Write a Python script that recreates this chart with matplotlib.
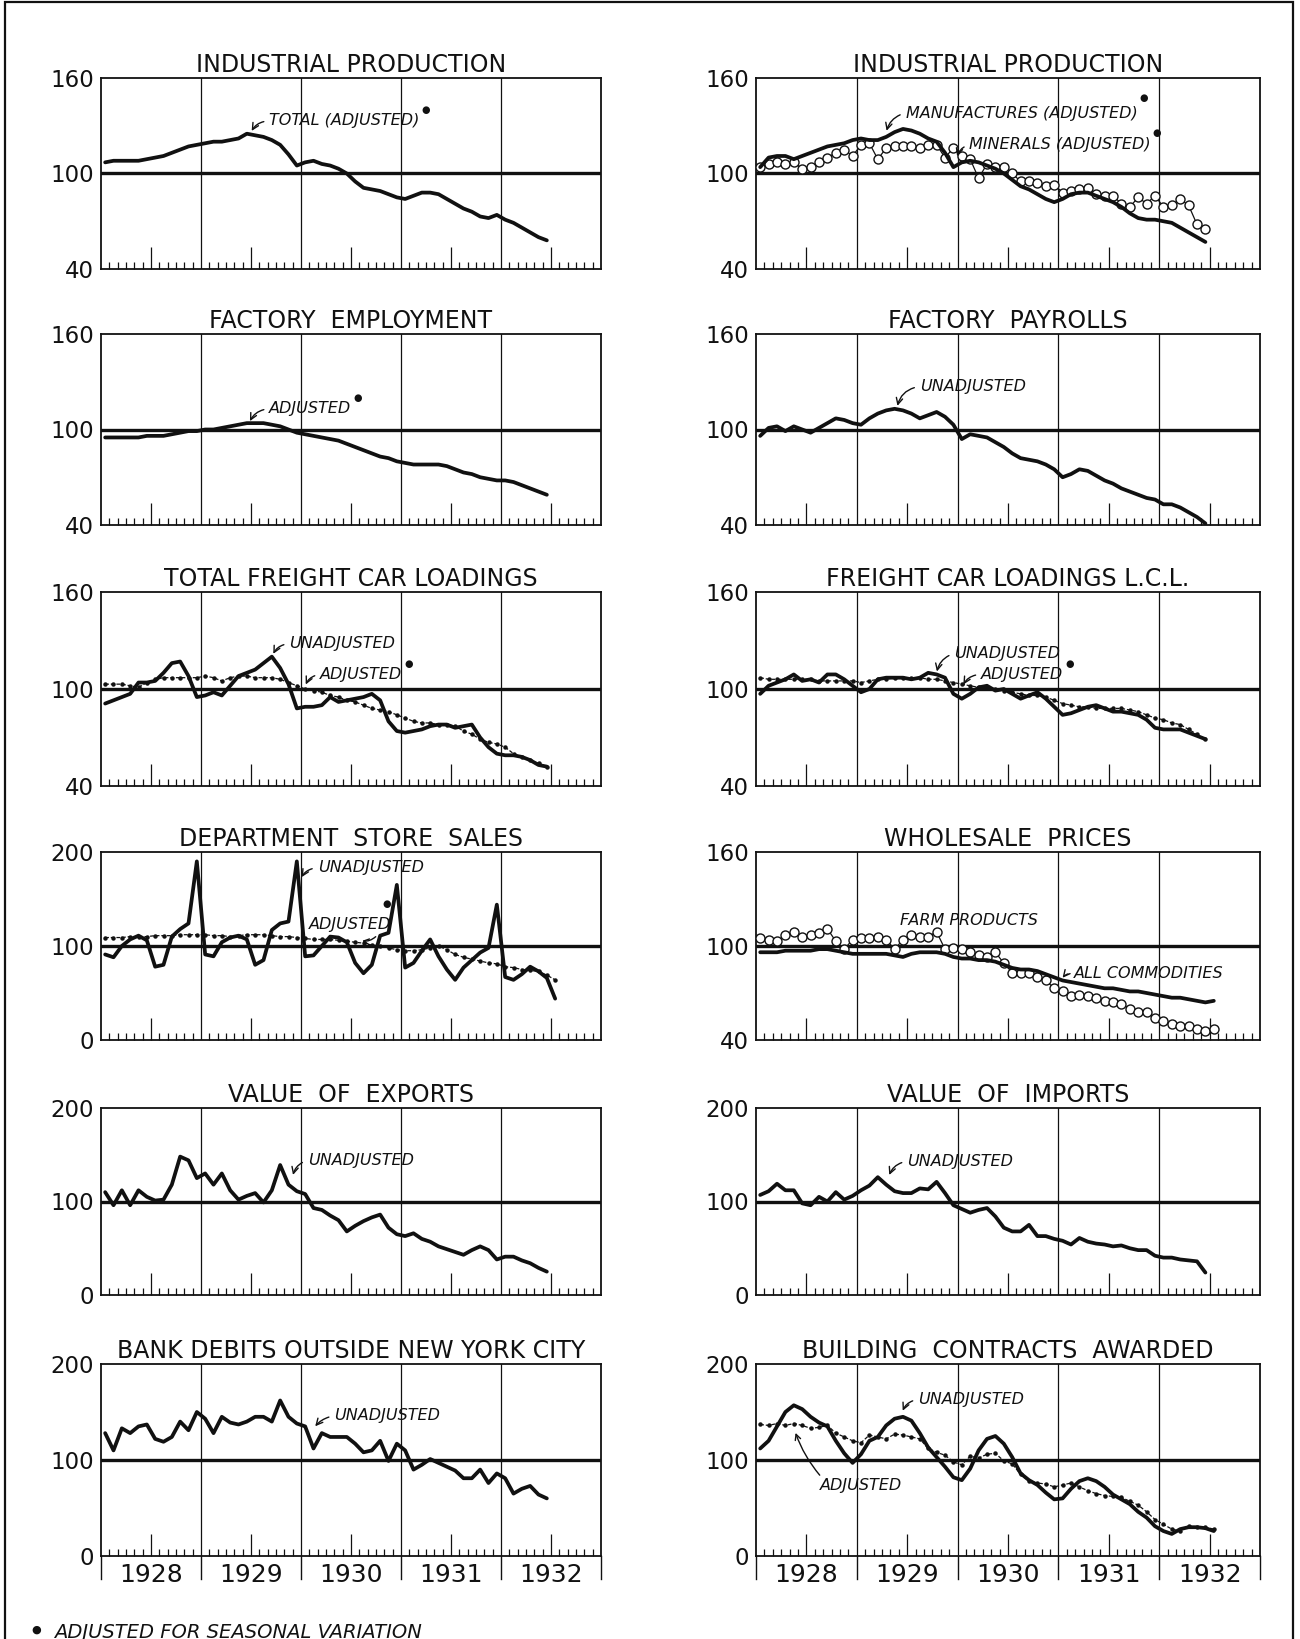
import numpy as np
import matplotlib
matplotlib.use("Agg")
import matplotlib.pyplot as plt
from matplotlib.patches import Rectangle
from matplotlib.transforms import blended_transform_factory

# Monatswerte ab Jan 1928 (Index 0)
ip_total = [107, 108, 108, 108, 108, 109, 110, 111, 113, 115, 117, 118,
            119, 120, 120, 121, 122, 125, 124, 123, 121, 118, 112, 105,
            107, 108, 106, 105, 103, 100, 95, 91, 90, 89, 87, 85,
            84, 86, 88, 88, 87, 84, 81, 78, 76, 73, 72, 74,
            71, 69, 66, 63, 60, 58]
ip_manuf = [104, 110, 111, 111, 109, 111, 113, 115, 117, 118, 119, 121,
            122, 121, 121, 123, 126, 128, 127, 125, 122, 120, 113, 104,
            107, 108, 107, 105, 103, 100, 96, 92, 90, 87, 84, 82,
            84, 87, 88, 88, 86, 84, 82, 79, 75, 72, 71, 71,
            70, 69, 66, 63, 60, 57]
ip_minerals = [104, 106, 107, 106, 107, 103, 104, 107, 110, 113, 115, 111,
               118, 119, 109, 116, 117, 117, 117, 116, 118, 118, 110, 116,
               111, 109, 97, 106, 104, 104, 100, 95, 95, 94, 92, 93,
               88, 89, 90, 91, 87, 86, 86, 81, 79, 85, 81, 86,
               79, 80, 84, 80, 68, 65]
fact_employment = [95, 95, 95, 95, 95, 96, 96, 96, 97, 98, 99, 99,
                   100, 100, 101, 102, 103, 104, 104, 104, 103, 102, 100, 98,
                   97, 96, 95, 94, 93, 91, 89, 87, 85, 83, 82, 80,
                   79, 78, 78, 78, 78, 77, 75, 73, 72, 70, 69, 68,
                   68, 67, 65, 63, 61, 59]
fact_payrolls = [96, 101, 102, 99, 102, 100, 98, 101, 104, 107, 106, 104,
                 103, 107, 110, 112, 113, 112, 110, 107, 109, 111, 108, 103,
                 94, 97, 96, 95, 92, 89, 85, 82, 81, 80, 78, 75,
                 70, 72, 75, 74, 71, 68, 66, 63, 61, 59, 57, 56,
                 53, 53, 51, 48, 45, 41]
freight_unadj = [91, 93, 95, 97, 104, 104, 105, 110, 116, 117, 108, 95,
                 96, 98, 96, 102, 108, 110, 112, 116, 120, 113, 103, 88,
                 89, 89, 90, 95, 92, 93, 94, 95, 97, 93, 80, 74,
                 73, 74, 75, 77, 78, 78, 76, 77, 78, 70, 64, 60,
                 59, 59, 58, 56, 53, 52]
freight_adj = [103, 103, 103, 102, 101, 104, 106, 107, 107, 107, 107, 107,
               108, 107, 105, 107, 108, 108, 107, 107, 107, 106, 104, 102,
               100, 99, 98, 96, 95, 93, 92, 90, 88, 87, 86, 84,
               82, 80, 79, 79, 78, 78, 77, 74, 72, 69, 67, 66,
               64, 60, 58, 56, 54, 52]
lcl_unadj = [97, 102, 104, 106, 109, 105, 106, 104, 109, 109, 106, 102,
             98, 100, 106, 107, 107, 107, 106, 107, 110, 109, 107, 97,
             94, 97, 101, 102, 99, 100, 97, 94, 96, 98, 94, 89,
             84, 85, 87, 89, 90, 88, 86, 86, 85, 84, 81, 76,
             75, 75, 75, 73, 71, 69]
lcl_adj = [107, 106, 106, 106, 106, 106, 106, 105, 105, 105, 105, 105,
           104, 105, 106, 106, 107, 107, 107, 107, 106, 106, 105, 104,
           103, 102, 101, 101, 100, 99, 98, 97, 96, 96, 95, 93,
           91, 90, 89, 89, 88, 88, 88, 88, 87, 86, 84, 82,
           81, 79, 78, 75, 72, 69]
dept_unadj = [91, 88, 100, 107, 111, 106, 78, 80, 110, 118, 124, 190,
              91, 89, 104, 109, 111, 107, 80, 85, 117, 124, 126, 190,
              89, 90, 100, 110, 109, 104, 82, 71, 80, 111, 114, 165,
              77, 82, 95, 107, 89, 75, 64, 77, 85, 93, 98, 144,
              67, 64, 70, 78, 73, 66, 44]
dept_adj = [109, 109, 109, 110, 110, 110, 111, 111, 111, 112, 112, 112,
            112, 111, 111, 110, 111, 112, 112, 112, 111, 110, 110, 109,
            108, 107, 107, 107, 106, 105, 104, 103, 101, 100, 98, 96,
            95, 95, 96, 98, 100, 96, 91, 88, 86, 84, 82, 81,
            78, 77, 75, 74, 73, 69, 64]
wp_all = [96, 96, 96, 97, 97, 97, 97, 98, 98, 97, 96, 95,
          95, 95, 95, 95, 94, 93, 95, 96, 96, 96, 95, 93,
          92, 92, 91, 91, 90, 88, 86, 85, 85, 84, 82, 80,
          78, 77, 76, 75, 74, 73, 73, 72, 71, 71, 70, 69,
          68, 67, 67, 66, 65, 64, 65]
wp_farm = [105, 104, 103, 107, 109, 106, 107, 108, 111, 103, 98, 104,
           105, 105, 106, 104, 98, 104, 107, 106, 106, 109, 98, 99,
           98, 96, 94, 93, 96, 89, 83, 83, 83, 80, 78, 73,
           71, 68, 69, 68, 67, 65, 64, 63, 60, 58, 58, 54,
           52, 50, 49, 49, 47, 46, 47]
exports = [110, 96, 112, 96, 112, 105, 101, 102, 118, 148, 144, 125,
           130, 118, 130, 112, 102, 106, 109, 99, 112, 139, 118, 111,
           108, 93, 91, 85, 80, 68, 74, 79, 83, 86, 72, 65,
           63, 66, 60, 57, 52, 49, 46, 43, 48, 52, 48, 38,
           41, 41, 37, 34, 29, 25]
imports = [107, 111, 119, 112, 112, 98, 96, 105, 100, 110, 102, 106,
           112, 117, 126, 118, 111, 109, 109, 114, 113, 121, 109, 96,
           92, 88, 91, 93, 84, 72, 68, 68, 75, 63, 63, 60,
           58, 54, 61, 57, 55, 54, 52, 53, 50, 48, 48, 42,
           40, 40, 38, 37, 36, 24]
bank_debits = [128, 110, 133, 128, 135, 137, 122, 119, 124, 140, 131, 150,
               143, 128, 145, 139, 137, 140, 145, 145, 140, 162, 145, 138,
               135, 112, 128, 124, 124, 124, 117, 108, 110, 120, 99, 117,
               110, 90, 95, 101, 97, 93, 89, 81, 81, 90, 76, 86,
               81, 65, 70, 73, 64, 60]
building_unadj = [112, 120, 135, 150, 157, 153, 145, 139, 135, 120, 107, 97,
                  106, 120, 124, 136, 143, 145, 141, 128, 113, 103, 93, 82,
                  79, 91, 110, 122, 125, 117, 103, 86, 79, 74, 66, 59,
                  60, 70, 78, 81, 78, 72, 64, 59, 54, 46, 40, 31,
                  26, 23, 28, 30, 30, 29, 26]
building_adj = [137, 136, 138, 136, 138, 136, 133, 134, 136, 128, 124, 120,
                118, 126, 124, 122, 127, 126, 124, 122, 112, 108, 105, 98,
                95, 104, 102, 106, 107, 99, 96, 85, 78, 76, 75, 72,
                74, 76, 72, 68, 65, 63, 62, 61, 57, 53, 46, 38,
                33, 28, 26, 31, 30, 30, 28]

years = ["1928", "1929", "1930", "1931", "1932"]

W, H = 1300, 1639
INK = "#111111"
SEASONAL = "\u25cf"

fig = plt.figure(figsize=(W / 100, H / 100), dpi=100)
fig.patch.set_facecolor("white")

cols = [(101, 601), (756, 1260)]
rows = [(78, 269), (334, 525), (592, 786), (852, 1040), (1108, 1295), (1364, 1556)]

# Texte, hinter die das Saison-Zeichen gesetzt wird (Text, Versatz in px)
marked = []


def make_ax(r, c, title, scale):
    x0, x1 = cols[c]
    top, bot = rows[r]
    ax = fig.add_axes([x0 / W, 1 - bot / H, (x1 - x0) / W, (bot - top) / H])
    lo, mid, hi = scale
    ax.set_xlim(0, 60)
    ax.set_ylim(lo, hi)
    for s in ax.spines.values():
        s.set_linewidth(1.3)
        s.set_color(INK)
    ax.set_yticks([lo, mid, hi])
    ax.set_yticklabels([str(lo), str(mid), str(hi)])
    ax.tick_params(axis="y", length=0, pad=5, labelsize=16.5, colors=INK)
    ax.set_xticks([6, 18, 30, 42, 54])
    ax.set_xticks([m for m in range(1, 60) if m % 6 != 0], minor=True)
    ax.tick_params(axis="x", which="major", direction="in", length=16,
                   width=0.9, color=INK, labelbottom=False)
    ax.tick_params(axis="x", which="minor", direction="in", length=5,
                   width=0.9, color=INK)
    for yb in (12, 24, 36, 48):
        ax.axvline(yb, color=INK, lw=0.9)
    ax.axhline(mid, color=INK, lw=2.4)
    ax.set_title(title, fontsize=17, color=INK, pad=4)
    return ax


def xs(vals):
    return np.arange(len(vals)) + 0.5


def solid(ax, vals):
    ax.plot(xs(vals), vals, color=INK, lw=2.7, solid_joinstyle="round",
            solid_capstyle="round", zorder=4)


def dotted(ax, vals):
    ax.plot(xs(vals), vals, color=INK, lw=0.9, ls=(0, (3, 1.5)),
            marker="o", ms=2.2, zorder=3)


def circles(ax, vals):
    ax.plot(xs(vals), vals, color=INK, lw=0.9, marker="o", ms=6.5,
            mfc="white", mec=INK, mew=1.0, zorder=3)


def label(ax, text, pos, target=None, seasonal=None, rad=0.3):
    props = None
    if target is not None:
        props = dict(arrowstyle="->", color=INK, lw=1.0, relpos=(0, 0.5),
                     connectionstyle=f"arc3,rad={rad}", shrinkA=2, shrinkB=1)
    t = ax.annotate(text, xy=target if target else pos, xytext=pos,
                    fontsize=11.5, fontstyle="italic", color=INK,
                    ha="left", va="center", arrowprops=props, zorder=6)
    if seasonal is not None:
        marked.append((t, seasonal))
    return t


# Reihe 1
ax = make_ax(0, 0, "INDUSTRIAL PRODUCTION", (40, 100, 160))
solid(ax, ip_total)
label(ax, "TOTAL (ADJUSTED)", (20.2, 133), (18.0, 126), seasonal=(6, 3))

ax = make_ax(0, 1, "INDUSTRIAL PRODUCTION", (40, 100, 160))
solid(ax, ip_manuf)
circles(ax, ip_minerals)
label(ax, "MANUFACTURES (ADJUSTED)", (17.8, 138), (15.5, 126), seasonal=(6, 8))
label(ax, "MINERALS (ADJUSTED)", (25.4, 118), (23.9, 110), seasonal=(6, 4))

# Reihe 2
ax = make_ax(1, 0, "FACTORY  EMPLOYMENT", (40, 100, 160))
solid(ax, fact_employment)
label(ax, "ADJUSTED", (20.2, 113), (17.8, 104.5), seasonal=(6, 3))

ax = make_ax(1, 1, "FACTORY  PAYROLLS", (40, 100, 160))
solid(ax, fact_payrolls)
label(ax, "UNADJUSTED", (19.5, 127), (16.8, 114), rad=0.35)

# Reihe 3
ax = make_ax(2, 0, "TOTAL FREIGHT CAR LOADINGS", (40, 100, 160))
dotted(ax, freight_adj)
solid(ax, freight_unadj)
label(ax, "UNADJUSTED", (22.6, 128), (20.6, 121))
label(ax, "ADJUSTED", (26.3, 109), (24.5, 102), seasonal=(6, 3))

ax = make_ax(2, 1, "FREIGHT CAR LOADINGS L.C.L.", (40, 100, 160))
dotted(ax, lcl_adj)
solid(ax, lcl_unadj)
label(ax, "UNADJUSTED", (23.6, 122), (21.5, 110))
label(ax, "ADJUSTED", (26.8, 109), (24.6, 102), seasonal=(6, 3))

# Reihe 4
ax = make_ax(3, 0, "DEPARTMENT  STORE  SALES", (0, 100, 200))
dotted(ax, dept_adj)
solid(ax, dept_unadj)
label(ax, "UNADJUSTED", (26.0, 183), (24.0, 172))
label(ax, "ADJUSTED", (25.0, 123), seasonal=(-5, 13))
ax.annotate("", xy=(31.0, 106), xytext=(33.2, 112),
            arrowprops=dict(arrowstyle="->", color=INK, lw=1.0,
                            connectionstyle="arc3,rad=-0.3"))

ax = make_ax(3, 1, "WHOLESALE  PRICES", (40, 100, 160))
circles(ax, wp_farm)
solid(ax, wp_all)
label(ax, "FARM PRODUCTS", (17.2, 116))
label(ax, "ALL COMMODITIES", (37.8, 82.5), (36.4, 79))

# Reihe 5
ax = make_ax(4, 0, "VALUE  OF  EXPORTS", (0, 100, 200))
solid(ax, exports)
label(ax, "UNADJUSTED", (24.8, 144), (23.0, 127))

ax = make_ax(4, 1, "VALUE  OF  IMPORTS", (0, 100, 200))
solid(ax, imports)
label(ax, "UNADJUSTED", (18.0, 143), (15.8, 127))

# Reihe 6
ax = make_ax(5, 0, "BANK DEBITS OUTSIDE NEW YORK CITY", (0, 100, 200))
solid(ax, bank_debits)
label(ax, "UNADJUSTED", (28.0, 146), (25.6, 134), rad=0.2)
bottom_axes = [ax]

ax = make_ax(5, 1, "BUILDING  CONTRACTS  AWARDED", (0, 100, 200))
dotted(ax, building_adj)
solid(ax, building_unadj)
label(ax, "UNADJUSTED", (19.3, 163), (17.4, 150))
label(ax, "ADJUSTED", (7.6, 73))
ax.annotate("", xy=(4.6, 131), xytext=(7.8, 82),
            arrowprops=dict(arrowstyle="->", color=INK, lw=1.0,
                            connectionstyle="arc3,rad=-0.1"))
bottom_axes.append(ax)

# Jahreszahlen unter der letzten Reihe
for ax in bottom_axes:
    tr = blended_transform_factory(ax.transData, ax.transAxes)
    for yb in range(0, 61, 12):
        ax.plot([yb, yb], [0, -0.12], transform=tr, color=INK, lw=1.0,
                clip_on=False)
    for i, yr in enumerate(years):
        ax.text(12 * i + 6, -0.1, yr, transform=tr, ha="center", va="center",
                fontsize=18, color=INK)

# Saison-Zeichen hochgestellt hinter die jeweiligen Texte
fig.canvas.draw()
renderer = fig.canvas.get_renderer()
for t, (dx, dy) in marked:
    bb = t.get_window_extent(renderer)
    fig.text((bb.x1 + dx) / W, (bb.y1 + dy) / H, SEASONAL, fontsize=7,
             color=INK, ha="center", va="center", zorder=10)

# Fussnote und Rahmen
fig.text(36 / W, 1 - 1630 / H, SEASONAL, fontsize=8, color=INK,
         ha="center", va="center")
fig.text(54 / W, 1 - 1632 / H, "ADJUSTED FOR SEASONAL VARIATION",
         fontsize=14, fontstyle="italic", color=INK, ha="left", va="center")
fig.patches.append(Rectangle((5 / W, -0.05), 1288 / W, 1.05 - 2 / H,
                             transform=fig.transFigure, fill=False,
                             edgecolor=INK, lw=1.6))

fig.savefig("out.png", dpi=100)
